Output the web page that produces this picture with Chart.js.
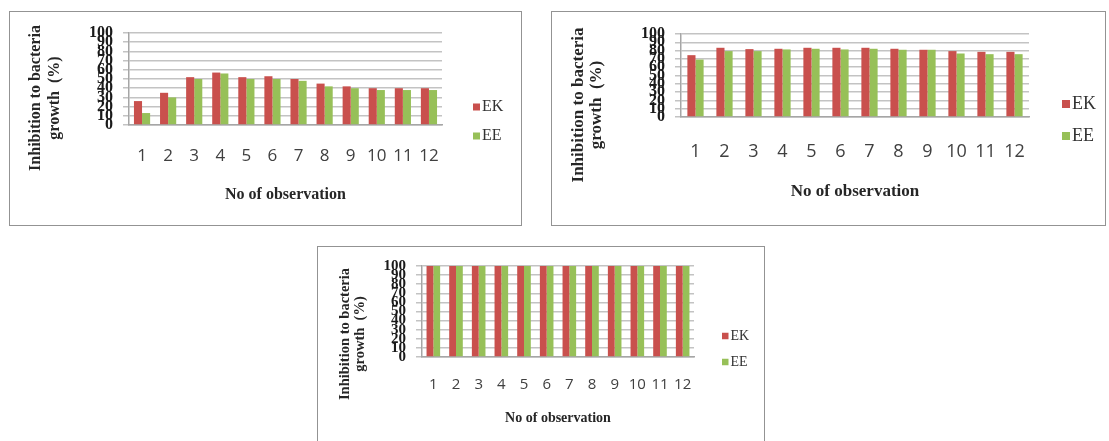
<!DOCTYPE html>
<html>
<head>
<meta charset="utf-8">
<script src="https://cdn.jsdelivr.net/npm/chart.js@4.4.1/dist/chart.umd.min.js"></script>
<style>
  html, body { margin: 0; padding: 0; background: #fff; width: 1109px; height: 441px; overflow: hidden; }
  .frame { position: absolute; box-sizing: border-box; border: 1px solid #939393; background: #fff; }
  .frame canvas { display: block; }
</style>
</head>
<body>
<div class="frame" id="f1" style="left:9px;top:11px;width:513px;height:215px;"><canvas id="c1"></canvas></div>
<div class="frame" id="f2" style="left:551px;top:11px;width:555px;height:215px;"><canvas id="c2"></canvas></div>
<div class="frame" id="f3" style="left:317px;top:246px;width:448px;height:205px;"><canvas id="c3"></canvas></div>
<script>
// observations 1..12
const observations = ['1', '2', '3', '4', '5', '6', '7', '8', '9', '10', '11', '12'];
const yTicks = [0, 10, 20, 30, 40, 50, 60, 70, 80, 90, 100];
const seriesNames = ['EK', 'EE'];
const yTitle = ['Inhibition to bacteria', 'growth  (%)'];
const xTitle = 'No of observation';

// top left chart
const ek1 = [26, 35, 52, 57, 52, 53, 50, 45, 42, 40, 40, 40];
const ee1 = [13, 30, 50, 56, 50, 50, 48, 42, 40, 38, 38, 38];
// top right chart
const ek2 = [74.5, 83.4, 81.8, 82.2, 83.4, 83.4, 83.4, 82.2, 81, 79.4, 78.5, 78.5];
const ee2 = [69.2, 79.4, 79.4, 81.4, 82.2, 81.4, 82.2, 81, 81, 76.5, 75.7, 75.7];
// bottom chart
const ek3 = [100, 100, 100, 100, 100, 100, 100, 100, 100, 100, 100, 100];
const ee3 = [100, 100, 100, 100, 100, 100, 100, 100, 100, 100, 100, 100];

const RED = '#C9504D';
const GREEN = '#97C058';
const SERIF = "'Liberation Serif', 'Times New Roman', serif";
const SANS = "'Open Sans', 'Liberation Sans', sans-serif";

// draws the rotated two line y title and the small legend on the right
const sideText = {
  id: 'sideText',
  afterDraw(chart, args, o) {
    const ctx = chart.ctx;
    ctx.save();
    ctx.translate(o.titleX, o.titleY);
    ctx.rotate(-Math.PI / 2);
    ctx.font = 'bold ' + o.titleSize + 'px ' + SERIF;
    ctx.fillStyle = '#262626';
    ctx.textAlign = 'center';
    ctx.textBaseline = 'middle';
    yTitle.forEach((line, i) => ctx.fillText(line, 0, i * o.titleGap));
    ctx.restore();

    ctx.save();
    ctx.font = o.legendSize + 'px ' + SERIF;
    ctx.textBaseline = 'middle';
    ctx.textAlign = 'left';
    chart.data.datasets.forEach((ds, i) => {
      const y = o.legendY[i];
      ctx.fillStyle = ds.backgroundColor;
      ctx.fillRect(o.legendX, y - o.box / 2, o.box, o.box);
      ctx.fillStyle = '#333';
      ctx.fillText(ds.label, o.legendX + o.box + 2, y);
    });
    ctx.restore();
  }
};

function makeChart(id, ek, ee, s) {
  return new Chart(document.getElementById(id), {
    type: 'bar',
    data: {
      labels: observations,
      datasets: [
        { label: seriesNames[0], data: ek, backgroundColor: RED, borderWidth: 0 },
        { label: seriesNames[1], data: ee, backgroundColor: GREEN, borderWidth: 0 }
      ]
    },
    options: {
      responsive: true,
      maintainAspectRatio: false,
      animation: false,
      datasets: { bar: { categoryPercentage: s.catPct, barPercentage: 1 } },
      layout: { padding: { left: 0, top: s.top, right: s.right, bottom: 0 } },
      plugins: {
        legend: { display: false },
        tooltip: { enabled: false },
        sideText: s.side
      },
      scales: {
        x: {
          afterFit: scale => { scale.height = s.xHeight; },
          grid: { display: false, drawTicks: false },
          border: { display: true, color: '#a6a6a6', width: 1.5 },
          ticks: {
            padding: s.xPad,
            color: '#404040',
            maxRotation: 0,
            autoSkip: false,
            font: { family: SANS, size: s.xFont }
          },
          title: {
            display: true,
            text: xTitle,
            color: '#262626',
            font: { family: SERIF, size: s.xTitleFont, weight: 'bold' },
            padding: { top: 0, bottom: s.xTitlePad }
          }
        },
        y: {
          min: 0,
          max: 100,
          afterFit: scale => { scale.width = s.left; },
          afterBuildTicks: scale => { scale.ticks = yTicks.map(v => ({ value: v })); },
          grid: { color: '#c3c3c3', lineWidth: 1.5, drawTicks: true, tickLength: 6 },
          border: { display: true, color: '#a6a6a6', width: 1.5 },
          ticks: {
            autoSkip: false,
            padding: 10,
            color: '#1a1a1a',
            font: { family: SERIF, size: s.yFont, weight: 'bold' }
          }
        }
      }
    },
    plugins: [sideText]
  });
}

Chart.defaults.font.family = SANS;

makeChart('c1', ek1, ee1, {
  catPct: 0.62, top: 21, right: 79, left: 119, xHeight: 100,
  xPad: 21, xFont: 17, xTitleFont: 16, xTitlePad: 21, yFont: 16,
  side: { titleX: 26, titleY: 86, titleSize: 16, titleGap: 19,
          legendX: 463, legendY: [95, 124], box: 7, legendSize: 16 }
});

makeChart('c2', ek2, ee2, {
  catPct: 0.56, top: 22, right: 76, left: 129, xHeight: 108,
  xPad: 24, xFont: 18, xTitleFont: 17, xTitlePad: 23, yFont: 16,
  side: { titleX: 27, titleY: 93, titleSize: 17, titleGap: 18,
          legendX: 510, legendY: [92, 124], box: 8, legendSize: 18 }
});

makeChart('c3', ek3, ee3, {
  catPct: 0.6, top: 19, right: 70, left: 104, xHeight: 93,
  xPad: 19, xFont: 15, xTitleFont: 14, xTitlePad: 23, yFont: 15,
  side: { titleX: 27, titleY: 87, titleSize: 14.5, titleGap: 15,
          legendX: 404, legendY: [89, 115], box: 6.5, legendSize: 14 }
});
</script>
</body>
</html>
